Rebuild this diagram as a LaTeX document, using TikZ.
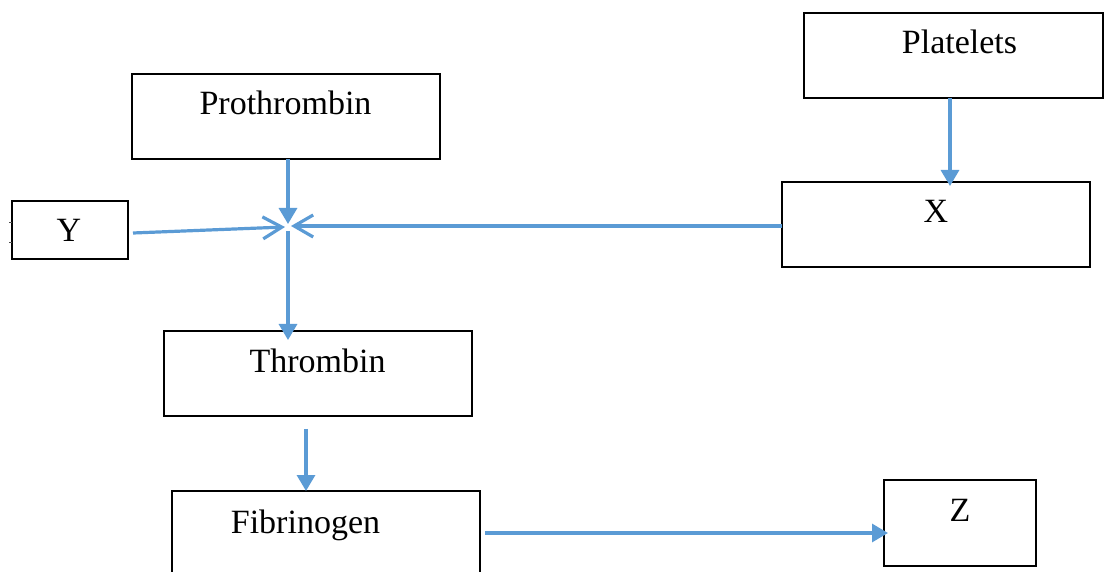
\documentclass[tikz,border=0pt]{standalone}
\usepackage{fontspec}
\setmainfont{Liberation Serif}
\usetikzlibrary{arrows.meta}
\definecolor{arrowblue}{HTML}{5B9BD5}
\begin{document}
\begin{tikzpicture}[x=0.5pt,y=-0.5pt,
  box/.style={draw=black,line width=0.7pt,inner sep=0pt,outer sep=0pt},
  lbl/.style={anchor=base,font=\fontsize{17}{20}\selectfont,inner sep=0pt},
  flow/.style={draw=arrowblue,line width=1.6pt,-{Triangle[length=8pt,width=9pt]}},
  vflow/.style={draw=arrowblue,line width=1.6pt,-{Straight Barb[length=9.5pt,width=11pt]}}]
\useasboundingbox (0,0) rectangle (1104,572);
% boxes
\node[box,minimum width=154pt,minimum height=42.5pt] (pro) at (286,116.5) {};
\node[box,minimum width=149.5pt,minimum height=42.5pt] (plt) at (953.5,55.5) {};
\node[box,minimum width=58pt,minimum height=29pt] (ybox) at (70,230) {};
\node[box,minimum width=154pt,minimum height=42.5pt] (xbox) at (936,224.5) {};
\node[box,minimum width=154pt,minimum height=42.5pt] (thr) at (318,373.5) {};
\node[box,minimum width=154pt,minimum height=43pt] (fib) at (326,534) {};
\node[box,minimum width=76pt,minimum height=43pt] (zbox) at (960,523) {};
% labels
\node[lbl] (tpro) at (285.5,115) {Prothrombin};
\node[lbl] (tplt) at (959.5,54) {Platelets};
\node[lbl] (ty) at (69,242) {Y};
\node[lbl] (tx) at (936,223) {X};
\node[lbl] (tthr) at (317.5,373) {Thrombin};
\node[lbl] (tfib) at (305.5,533) {Fibrinogen};
\node[lbl] (tz) at (960,521) {Z};
% small ticks at left of Y box
\draw[black!70,line width=0.4pt] (9,222) -- (ybox.west |- 0,222);
\draw[black!70,line width=0.4pt] (9,242) -- (ybox.west |- 0,242);
% junction coordinates
\coordinate (j) at (288,227);
\coordinate (jt) at (288,224);
\coordinate (jl) at (285,227);
\coordinate (jr) at (291,226);
\coordinate (jb) at (288,231);
\coordinate (tt) at (306,429);
\coordinate (px) at (950,98);
% connectors
\draw[flow] (pro.south -| j) -- (jt);
\draw[vflow] ([xshift=2.5pt,yshift=-1.5pt]ybox.east) -- (jl);
\draw[vflow] ([yshift=-0.75pt]xbox.west) -- (jr);
\draw[flow] (jb) -- ([yshift=-4.5pt]thr.north -| jb);
\draw[flow] (tt) -- (fib.north -| tt);
\draw[flow] (plt.south -| px) -- ([yshift=-2pt]xbox.north -| px);
\draw[flow] ([xshift=2.5pt,yshift=0.5pt]fib.east) -- ([xshift=2pt,yshift=0.5pt]fib.east -| zbox.west);
\end{tikzpicture}
\end{document}
